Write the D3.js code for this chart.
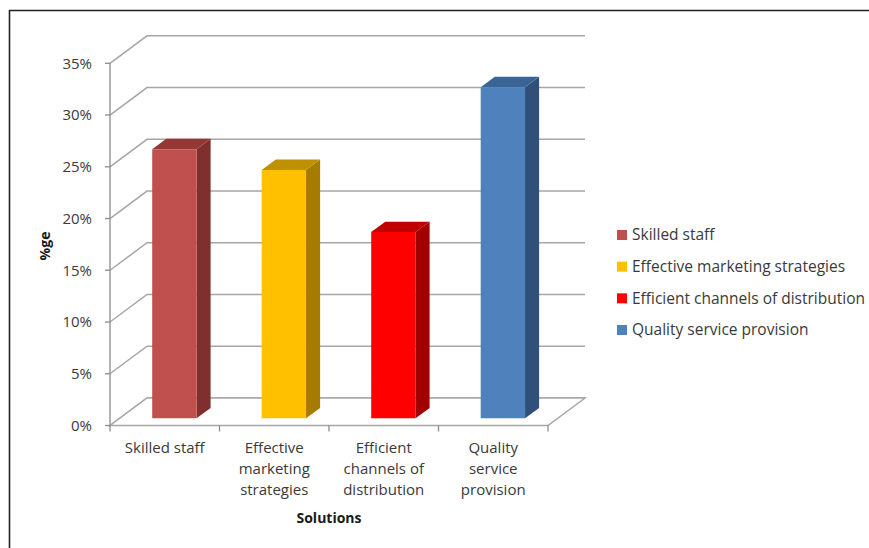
<!DOCTYPE html>
<html>
<head>
<meta charset="utf-8">
<script src="https://cdn.jsdelivr.net/npm/d3@7/dist/d3.min.js"></script>
<style>
  html, body { margin: 0; padding: 0; background: #fff; }
  svg { display: block; }
  text { font-family: "Open Sans", Lato, sans-serif; fill: #3a3a3a; }
</style>
</head>
<body>
<svg id="chart" width="869" height="548"></svg>
<script>
// ---- data ----
const categories = ["Skilled staff", "Effective marketing strategies", "Efficient channels of distribution", "Quality service provision"];
const categoryLabels = [["Skilled staff"], ["Effective", "marketing", "strategies"], ["Efficient", "channels of", "distribution"], ["Quality", "service", "provision"]];
const values = [0.26, 0.24, 0.18, 0.32];
const yTicks = [0, 0.05, 0.10, 0.15, 0.20, 0.25, 0.30, 0.35];
const frontColors = ["#C0504D", "#FFC000", "#FF0000", "#4F81BD"];
const topColors = ["#953735", "#BF9000", "#C00000", "#3B6496"];
const sideColors = ["#7F2F2D", "#A67C00", "#A00000", "#30507A"];
const yTitle = "%ge";
const xTitle = "Solutions";

// ---- layout ----
const svg = d3.select("#chart");
const DX = 37, DY = -27.5;           // full depth offset
const barD0 = 0.26, barD1 = 0.64;     // bar depth range (fraction of full depth)
const x = d3.scaleBand().domain(categories).range([110, 548]).paddingInner(0.595).paddingOuter(0.2975);
const band = d3.scaleBand().domain(categories).range([110, 548]);
const y = d3.scaleLinear().domain([0, 0.35]).range([425.5, 63.3]);
const P = (px, v, d) => [px + d * DX, y(v) + d * DY];
const poly = pts => pts.map(p => p.join(",")).join(" ");

// frame
svg.append("line").attr("x1", 9).attr("y1", 10.5).attr("x2", 869).attr("y2", 10.5).attr("stroke", "#222").attr("stroke-width", 1.6);
svg.append("line").attr("x1", 9.5).attr("y1", 10).attr("x2", 9.5).attr("y2", 548).attr("stroke", "#222").attr("stroke-width", 1.6);

const grid = svg.append("g").attr("stroke", "#a6a6a6").attr("stroke-width", 1.5).attr("fill", "none");
const x0 = band.range()[0], x1 = band.range()[1];
// side-wall diagonals and back-wall lines
yTicks.forEach(t => {
  const a = P(x0, t, 0), b = P(x0, t, 1), c = P(x1, t, 1);
  grid.append("polyline").attr("points", poly([a, b, c]));
});
// floor
grid.append("polygon").attr("fill", "#fff")
  .attr("points", poly([P(x0, 0, 0), P(x1, 0, 0), P(x1, 0, 1), P(x0, 0, 1)]));

// y axis line and ticks
const ax = svg.append("g").attr("stroke", "#8c8c8c").attr("stroke-width", 1.3);
ax.append("line").attr("x1", x0).attr("x2", x0).attr("y1", y(0.35)).attr("y2", y(0) + 1);
yTicks.forEach(t => ax.append("line").attr("x1", x0 - 5).attr("x2", x0).attr("y1", y(t)).attr("y2", y(t)));
// category ticks
categories.forEach((c, i) => {
  const bx = band(c);
  ax.append("line").attr("x1", bx).attr("x2", bx).attr("y1", y(0)).attr("y2", y(0) + 6);
  if (i === categories.length - 1) ax.append("line").attr("x1", bx + band.bandwidth()).attr("x2", bx + band.bandwidth()).attr("y1", y(0)).attr("y2", y(0) + 6);
});

// y tick labels
svg.append("g").selectAll("text").data(yTicks).join("text")
  .attr("x", 92).attr("y", d => y(d)).attr("dy", "0.35em")
  .attr("text-anchor", "end").attr("font-size", 15)
  .text(d3.format(".0%"));

// bars
const bars = svg.append("g");
categories.forEach((c, i) => {
  const l = x(c), r = x(c) + x.bandwidth(), v = values[i];
  const g = bars.append("g");
  g.append("polygon").attr("fill", sideColors[i])
    .attr("points", poly([P(r, 0, barD0), P(r, 0, barD1), P(r, v, barD1), P(r, v, barD0)]));
  g.append("polygon").attr("fill", topColors[i])
    .attr("points", poly([P(l, v, barD0), P(r, v, barD0), P(r, v, barD1), P(l, v, barD1)]));
  g.append("polygon").attr("fill", frontColors[i])
    .attr("points", poly([P(l, 0, barD0), P(r, 0, barD0), P(r, v, barD0), P(l, v, barD0)]));
});

// category labels
categories.forEach((c, i) => {
  const cx = band(c) + band.bandwidth() / 2;
  const t = svg.append("text").attr("x", cx).attr("y", 453).attr("text-anchor", "middle").attr("font-size", 15);
  categoryLabels[i].forEach((line, k) => t.append("tspan").attr("x", cx).attr("dy", k === 0 ? 0 : 21).text(line));
});

// axis titles
svg.append("text").attr("x", (x0 + x1) / 2).attr("y", 523).attr("text-anchor", "middle")
  .attr("font-size", 14).attr("font-weight", "bold").style("fill", "#1a1a1a").text(xTitle);
svg.append("text").attr("transform", "translate(50,246) rotate(-90)").attr("text-anchor", "middle")
  .attr("font-size", 14).attr("font-weight", "bold").style("fill", "#1a1a1a").text(yTitle);

// legend
const legY = d3.scalePoint().domain(categories).range([235, 330]);
const leg = svg.append("g");
categories.forEach((c, i) => {
  leg.append("rect").attr("x", 617).attr("y", legY(c) - 5).attr("width", 10).attr("height", 10).attr("fill", frontColors[i]);
  leg.append("text").attr("x", 632).attr("y", legY(c)).attr("dy", "0.35em").attr("font-size", 15.5).text(c);
});
</script>
</body>
</html>
